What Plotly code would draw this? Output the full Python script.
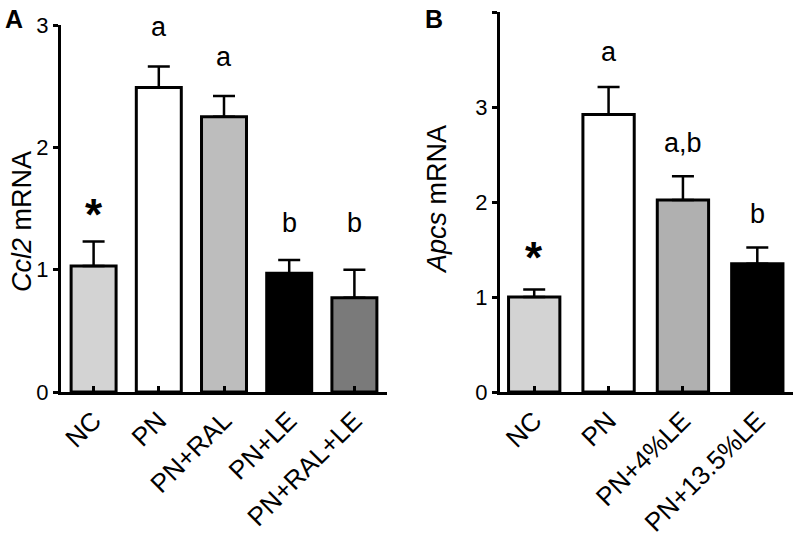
import plotly.graph_objects as go

# panel A: Ccl2
groups_a = ['NC', 'PN', 'PN+RAL', 'PN+LE', 'PN+RAL+LE']
ccl2 = [1.03, 2.49, 2.25, 0.97, 0.77]
ccl2_err = [0.20, 0.17, 0.17, 0.11, 0.23]
colors_a = ['#d3d3d3', '#ffffff', '#bdbdbd', '#000000', '#7a7a7a']
letters_a = ['*', 'a', 'a', 'b', 'b']

# panel B: Apcs
groups_b = ['NC', 'PN', 'PN+4%LE', 'PN+13.5%LE']
apcs = [1.00, 2.92, 2.02, 1.35]
apcs_err = [0.08, 0.29, 0.25, 0.17]
colors_b = ['#d3d3d3', '#ffffff', '#b0b0b0', '#000000']
letters_b = ['*', 'a', 'a,b', 'b']

FONT = 'Liberation Sans, Arial, sans-serif'
W, H = 797, 540
T, B = 12, 148  # top / bottom margins in px

fig = go.Figure()


def add_bars(groups, vals, errs, colors, xa, ya):
    fig.add_trace(go.Bar(
        x=list(range(len(groups))), y=vals, width=0.69,
        marker=dict(color=colors, line=dict(color='black', width=3)),
        error_y=dict(type='data', array=errs, arrayminus=[0] * len(errs), symmetric=False,
                     color='black', thickness=2.5, width=11),
        xaxis=xa, yaxis=ya, showlegend=False,
    ))


add_bars(groups_a, ccl2, ccl2_err, colors_a, 'x', 'y')
add_bars(groups_b, apcs, apcs_err, colors_b, 'x2', 'y2')

axis_common = dict(showline=True, linewidth=3, linecolor='black', showgrid=False, zeroline=False,
                   tickcolor='black', automargin=False)
xfont = dict(family=FONT, size=26, color='black')
yfont = dict(family=FONT, size=22, color='black')

fig.update_layout(
    width=W, height=H, margin=dict(l=0, r=0, t=T, b=B),
    plot_bgcolor='white', paper_bgcolor='white',
    xaxis=dict(domain=[61 / W, 387 / W], anchor='y', range=[-0.5, 4.5],
               tickvals=list(range(len(groups_a))), ticktext=groups_a, tickangle=-45, tickfont=xfont,
               ticks='inside', ticklen=6, tickwidth=2.5, **axis_common),
    yaxis=dict(domain=[0, 367 / (H - T - B)], anchor='x', range=[0, 3], tickvals=[0, 1, 2, 3],
               tickfont=yfont, ticks='outside', ticklen=5, tickwidth=3, **axis_common),
    xaxis2=dict(domain=[500 / W, 793 / W], anchor='y2', range=[-0.46, 3.48],
                tickvals=list(range(len(groups_b))), ticktext=groups_b, tickangle=-45, tickfont=xfont,
                ticks='inside', ticklen=6, tickwidth=2.5, **axis_common),
    yaxis2=dict(domain=[0, 1], anchor='x2', range=[0, 4], tickvals=[0, 1, 2, 3, 4],
                tickfont=yfont, ticks='outside', ticklen=5, tickwidth=3, **axis_common),
)

# significance letters above the bars
pos_a = [1.45, 2.98, 2.74, 1.38, 1.38]
pos_b = [1.42, 3.58, 2.62, 1.87]
for xa, ya, letters, pos in [('x', 'y', letters_a, pos_a), ('x2', 'y2', letters_b, pos_b)]:
    for i, (t, p) in enumerate(zip(letters, pos)):
        star = t == '*'
        fig.add_annotation(x=i, y=p, xref=xa, yref=ya, text='<b>*</b>' if star else t, showarrow=False,
                           xanchor='center', yanchor='middle',
                           font=dict(family=FONT, size=44 if star else 27, color='black'))


def px_note(x, y, text, size, angle=0):
    # place text by pixel position (from top-left of the page)
    fig.add_annotation(x=x / W, y=(H - B - y) / (H - T - B), xref='paper', yref='paper', text=text,
                       textangle=angle, showarrow=False, xanchor='center', yanchor='middle',
                       font=dict(family=FONT, size=size, color='black'))


px_note(22, 222, '<i>Ccl2</i> mRNA', 27, -90)
px_note(437, 200, '<i>Apcs</i> mRNA', 27, -90)
px_note(14, 19, '<b>A</b>', 25)
px_note(434, 19, '<b>B</b>', 25)

fig.write_html('out.html', config={'displayModeBar': False},
               post_script="document.body.style.margin='0px';")
